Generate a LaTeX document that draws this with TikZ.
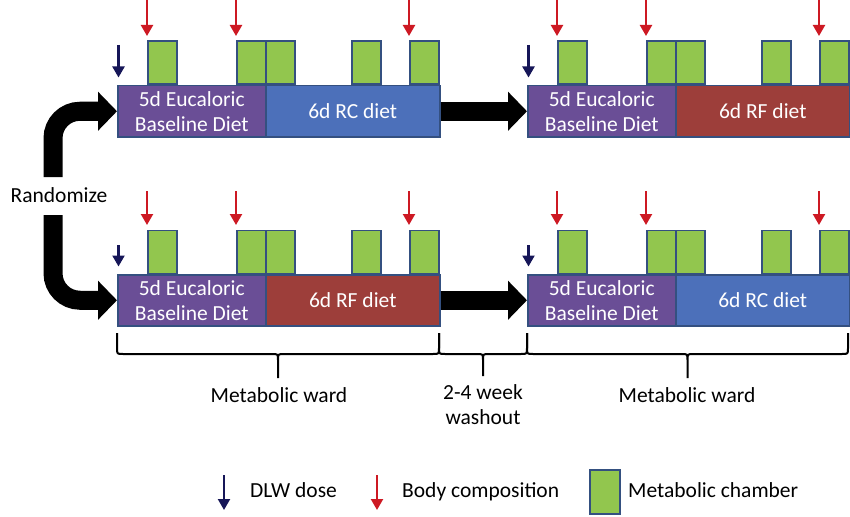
\documentclass[tikz,border=0pt]{standalone}
\usepackage{fontspec}
\setmainfont{Carlito}
\usetikzlibrary{arrows.meta,calc}
\definecolor{purp}{RGB}{106,78,150}
\definecolor{rcblue}{RGB}{76,112,186}
\definecolor{rfred}{RGB}{157,62,58}
\definecolor{chgreen}{RGB}{146,198,78}
\definecolor{edge}{RGB}{52,80,128}
\definecolor{navy}{RGB}{22,22,88}
\definecolor{bodyred}{RGB}{205,25,35}
\newcommand{\mybrace}[3]{% #1 left x, #2 right x, #3 tip y
  \pgfmathsetmacro{\xm}{(#1+#2)/2}
  \draw[brc] (#1,333) -- (#1,348) .. controls (#1,354) .. (#1+6,354)
    -- (\xm-6,354) .. controls (\xm,354) .. (\xm,360) -- (\xm,#3)
    (\xm,360) .. controls (\xm,354) .. (\xm+6,354)
    -- (#2-6,354) .. controls (#2,354) .. (#2,348) -- (#2,333);}
\begin{document}
\begin{tikzpicture}[x=1pt,y=-1pt,
  bar/.style={draw=edge, line width=1.5pt, inner sep=0pt, minimum height=51pt,
    text=white, align=center, font=\fontsize{21.5}{25}\selectfont, anchor=north west},
  chamber/.style={draw=edge, fill=chgreen, line width=1.5pt, inner sep=0pt,
    minimum width=29pt, minimum height=43pt, anchor=south west},
  bodyarr/.style={draw=bodyred, line width=2.2pt, -{Triangle[length=11pt,width=12pt]}},
  dlwarr/.style={draw=navy, line width=2.2pt, -{Triangle[length=11pt,width=12pt]}},
  bigarr/.style={line width=19pt, -{Triangle[length=19pt,width=38pt]}},
  lbl/.style={font=\fontsize{21.5}{25}\selectfont, align=center, inner sep=0pt},
  brc/.style={line width=2pt, line join=round}
]
\useasboundingbox (0,0) rectangle (850,516);

\foreach \r/\y/\ry/\nya/\ca/\ta/\cb/\tb in
  {1/85/0/45/rcblue/6d RC diet/rfred/6d RF diet,
   2/274/191/245/rfred/6d RF diet/rcblue/6d RC diet}{
  \foreach \g/\dx/\col/\txt in {1/0/\ca/\ta, 2/410/\cb/\tb}{
    \node[bar, fill=purp, minimum width=148pt] (p\r\g) at (117+\dx,\y) {5d Eucaloric\\Baseline Diet};
    \node[bar, fill=\col, minimum width=174pt] (d\r\g) at (265+\dx,\y) {\txt};
    \foreach \k/\gx in {1/147,2/236,3/265,4/351,5/409}
      \node[chamber] (c\r\g\k) at (\gx+\dx,\y) {};
    \foreach \k in {1,2,5}{
      \coordinate (rs\r\g\k) at (c\r\g\k.north west |- 0,\ry);
      \draw[bodyarr, shorten >=4.5pt] (rs\r\g\k) -- (c\r\g\k.north west);
    }
    \coordinate (ns\r\g) at (118.5+\dx,\nya);
    \draw[dlwarr, shorten >=7.5pt] (ns\r\g) -- (ns\r\g |- p\r\g.north);
  }
  \draw[bigarr] (d\r1.east) -- (p\r2.west);
}

% randomize
\node[lbl] (rnd) at (59,195) {Randomize};
\coordinate (ra) at (53,177);
\coordinate (rb) at (53,215);
\draw[bigarr, rounded corners=27pt] (ra) |- (p11.west);
\draw[bigarr, rounded corners=27pt] (rb) |- (p21.west);

% braces
\mybrace{117}{439}{378}
\mybrace{439}{527}{376}
\mybrace{527}{848}{378}
\node[lbl, anchor=base] (mw1) at (279,402) {Metabolic ward};
\node[lbl] (wash) at (483,405) {2-4 week\\washout};
\node[lbl, anchor=base] (mw2) at (687,402) {Metabolic ward};

% legend
\coordinate (l1a) at (224,475); \coordinate (l1b) at (224,510);
\draw[dlwarr] (l1a) -- (l1b);
\node[lbl, anchor=base west] (ldlw) at (250,497) {DLW dose};
\coordinate (l2a) at (377,475); \coordinate (l2b) at (377,510);
\draw[bodyarr] (l2a) -- (l2b);
\node[lbl, anchor=base west] (lbody) at (402,497) {Body composition};
\node[chamber, minimum width=30pt, minimum height=44pt, anchor=north west] (lch) at (589,469) {};
\node[lbl, anchor=base west] (lchl) at (628,497) {Metabolic chamber};
\end{tikzpicture}
\end{document}
